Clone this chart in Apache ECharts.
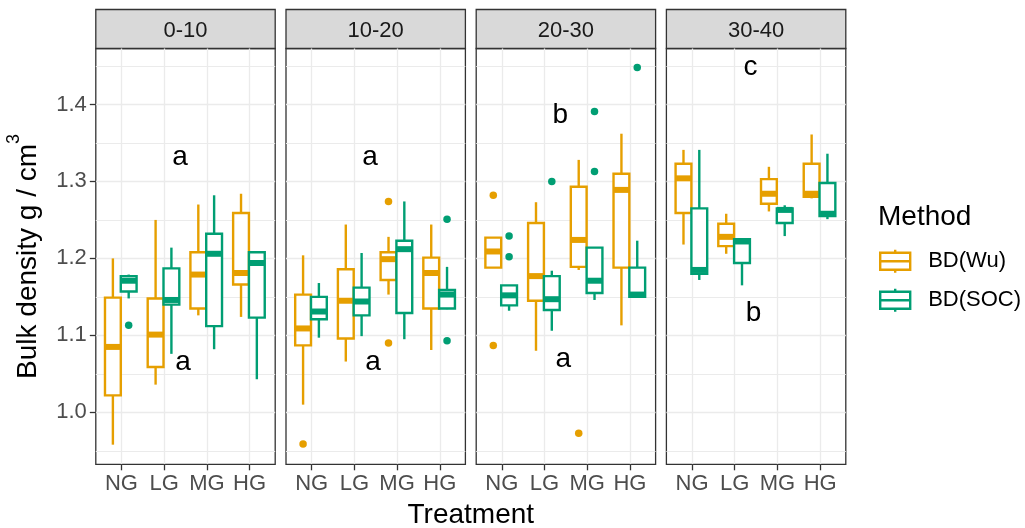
<!DOCTYPE html>
<html>
<head>
<meta charset="utf-8">
<script src="https://cdn.jsdelivr.net/npm/echarts@6.0.0/dist/echarts.min.js"></script>
<style>
  html, body { margin: 0; padding: 0; background: #ffffff; }
  #chart { width: 1025px; height: 528px; }
</style>
</head>
<body>
<div id="chart"></div>
<script>
// ---- data -------------------------------------------------------------
const CATEGORIES = ['NG', 'LG', 'MG', 'HG'];
const DEPTHS = ['0-10', '10-20', '20-30', '30-40'];
const METHODS = ['BD(Wu)', 'BD(SOC)'];

// Box statistics per treatment (NG, LG, MG, HG):
// [lower whisker, Q1, median, Q3, upper whisker]
const WU_0_10 = [
  [0.958, 1.022, 1.085, 1.149, 1.200],
  [1.036, 1.059, 1.101, 1.148, 1.250],
  [1.126, 1.135, 1.179, 1.208, 1.270],
  [1.124, 1.166, 1.181, 1.259, 1.284]
];
const WU_10_20 = [
  [1.010, 1.087, 1.109, 1.153, 1.204],
  [1.066, 1.096, 1.145, 1.186, 1.244],
  [1.153, 1.172, 1.199, 1.208, 1.228],
  [1.081, 1.135, 1.181, 1.201, 1.244]
];
const WU_20_30 = [
  [1.188, 1.188, 1.209, 1.227, 1.227],
  [1.080, 1.145, 1.177, 1.246, 1.273],
  [1.185, 1.189, 1.224, 1.293, 1.328],
  [1.113, 1.188, 1.289, 1.310, 1.362]
];
const WU_30_40 = [
  [1.218, 1.259, 1.304, 1.323, 1.341],
  [1.206, 1.216, 1.228, 1.245, 1.258],
  [1.261, 1.271, 1.284, 1.303, 1.319],
  [1.278, 1.280, 1.284, 1.323, 1.361]
];

const SOC_0_10 = [
  [1.148, 1.157, 1.171, 1.177, 1.179],
  [1.076, 1.140, 1.146, 1.187, 1.214],
  [1.082, 1.112, 1.206, 1.232, 1.282],
  [1.043, 1.123, 1.194, 1.208, 1.209]
];
const SOC_10_20 = [
  [1.097, 1.121, 1.131, 1.150, 1.168],
  [1.099, 1.126, 1.144, 1.162, 1.207],
  [1.095, 1.129, 1.212, 1.223, 1.274],
  [1.134, 1.135, 1.153, 1.159, 1.189]
];
const SOC_20_30 = [
  [1.132, 1.139, 1.152, 1.165, 1.165],
  [1.106, 1.133, 1.147, 1.177, 1.184],
  [1.146, 1.155, 1.171, 1.214, 1.214],
  [1.150, 1.150, 1.153, 1.188, 1.223]
];
const SOC_30_40 = [
  [1.172, 1.180, 1.185, 1.265, 1.341],
  [1.165, 1.194, 1.222, 1.225, 1.225],
  [1.229, 1.246, 1.263, 1.265, 1.269],
  [1.251, 1.255, 1.258, 1.298, 1.336]
];

// Outlying points: [depth index, treatment index, value]
const WU_OUTLIERS = [
  [1, 0, 0.959], [1, 2, 1.274], [1, 2, 1.090],
  [2, 0, 1.282], [2, 0, 1.087], [2, 2, 0.973]
];
const SOC_OUTLIERS = [
  [0, 0, 1.113],
  [1, 3, 1.251], [1, 3, 1.093],
  [2, 0, 1.229], [2, 0, 1.202], [2, 1, 1.300],
  [2, 2, 1.391], [2, 2, 1.313], [2, 3, 1.448]
];

// Significance letters per depth
const LETTERS_UPPER = ['a', 'a', 'b', 'c'];
const LETTERS_UPPER_Y = [1.331, 1.331, 1.386, 1.448];
const LETTERS_LOWER = ['a', 'a', 'a', 'b'];
const LETTERS_LOWER_Y = [1.065, 1.065, 1.069, 1.129];
const LETTER_X_UPPER = 1.37;
const LETTER_X_LOWER = 1.44;

const Y_TICKS = [1.0, 1.1, 1.2, 1.3, 1.4];
const Y_MINOR = [0.95, 1.05, 1.15, 1.25, 1.35, 1.45];
const X_TICKS = [0, 1, 2, 3];

// ---- look & layout --------------------------------------------------
const WU_BOXES = [WU_0_10, WU_10_20, WU_20_30, WU_30_40];
const SOC_BOXES = [SOC_0_10, SOC_10_20, SOC_20_30, SOC_30_40];
const COLORS = ['#E69F00', '#009E73'];
const FONT = "'Liberation Sans', Arial, Helvetica, sans-serif";
const Y_RANGE = [0.9325, 1.4727];
const X_RANGE = [-0.6, 3.6];
const DODGE = [-0.2, 0.17];
const BOX_W = 0.37;
const BOX_LINE = 2.4;
const MEDIAN_LINE = 6;

const PANEL_LEFT = 95.8, PANEL_STEP = 190.2, PANEL_W = 179.4;
const PANEL_TOP = 48.5, PANEL_H = 415.8;
const STRIP_TOP = 9.5, STRIP_H = 39;
const GRID_COLOR = '#EBEBEB';
const FRAME_COLOR = '#333333';

function boxRenderer(color, shift) {
  return function (params, api) {
    const x = api.value(0) + shift;
    const half = BOX_W / 2;
    const lo = api.coord([x, api.value(1)]);
    const q1 = api.coord([x - half, api.value(2)]);
    const med = api.coord([x, api.value(3)]);
    const q3 = api.coord([x + half, api.value(4)]);
    const hi = api.coord([x, api.value(5)]);
    const cx = med[0];
    const lineStyle = { stroke: color, lineWidth: BOX_LINE, fill: null };
    return {
      type: 'group',
      children: [
        { type: 'line', shape: { x1: cx, y1: hi[1], x2: cx, y2: q3[1] }, style: lineStyle },
        { type: 'line', shape: { x1: cx, y1: q1[1], x2: cx, y2: lo[1] }, style: lineStyle },
        {
          type: 'rect',
          shape: { x: q1[0], y: q3[1], width: q3[0] - q1[0], height: q1[1] - q3[1] },
          style: { fill: '#ffffff', stroke: color, lineWidth: BOX_LINE }
        },
        {
          type: 'line',
          shape: { x1: q1[0], y1: med[1], x2: q3[0], y2: med[1] },
          style: { stroke: color, lineWidth: MEDIAN_LINE, lineCap: 'butt' }
        }
      ]
    };
  };
}

const grids = [], xAxes = [], yAxes = [], series = [], graphics = [];

DEPTHS.forEach(function (depth, i) {
  const left = PANEL_LEFT + i * PANEL_STEP;
  grids.push({
    left: left, top: PANEL_TOP, width: PANEL_W, height: PANEL_H,
    show: true, borderColor: FRAME_COLOR, borderWidth: 1.3,
    backgroundColor: 'transparent', containLabel: false, outerBoundsMode: 'none'
  });

  xAxes.push({
    type: 'value', gridIndex: i, min: X_RANGE[0], max: X_RANGE[1], position: 'bottom',
    axisLine: { show: false, onZero: false },
    axisTick: { show: true, customValues: X_TICKS, length: 6, lineStyle: { color: FRAME_COLOR, width: 1.3 } },
    axisLabel: {
      customValues: X_TICKS, margin: 9,
      formatter: function (v) { return CATEGORIES[Math.round(v)]; },
      color: '#4D4D4D', fontSize: 22, fontFamily: FONT
    },
    splitLine: { show: true, lineStyle: { color: GRID_COLOR, width: 1.3 } }
  });

  const yAxis = {
    type: 'value', gridIndex: i, min: Y_RANGE[0], max: Y_RANGE[1], position: 'left',
    axisLine: { show: false, onZero: false },
    axisTick: { show: i === 0, customValues: Y_TICKS, length: 6, lineStyle: { color: FRAME_COLOR, width: 1.3 } },
    axisLabel: {
      show: i === 0, customValues: Y_TICKS, margin: 9,
      formatter: function (v) { return v.toFixed(1); },
      color: '#4D4D4D', fontSize: 22, fontFamily: FONT
    },
    splitLine: { show: true, lineStyle: { color: GRID_COLOR, width: 1.3 } }
  };
  if (i === 0) {
    yAxis.name = '{t|Bulk density g / cm}{s|3}';
    yAxis.nameLocation = 'middle';
    yAxis.nameRotate = 90;
    yAxis.nameGap = 45;
    yAxis.nameTextStyle = {
      color: '#000000', fontFamily: FONT, fontSize: 28,
      rich: {
        t: { fontSize: 28, lineHeight: 46, fontFamily: FONT, color: '#000000' },
        s: { fontSize: 18, lineHeight: 18, verticalAlign: 'top', fontFamily: FONT, color: '#000000' }
      }
    };
  }
  yAxes.push(yAxis);

  // minor horizontal grid lines
  series.push({
    type: 'line', xAxisIndex: i, yAxisIndex: i, data: [], z: 1, silent: true,
    markLine: {
      z: 1, silent: true, symbol: 'none', animation: false,
      label: { show: false },
      lineStyle: { color: GRID_COLOR, width: 1, type: 'solid' },
      emphasis: { disabled: true },
      data: Y_MINOR.map(function (v) { return { yAxis: v }; })
    }
  });

  [WU_BOXES[i], SOC_BOXES[i]].forEach(function (boxes, m) {
    series.push({
      type: 'custom', name: METHODS[m], xAxisIndex: i, yAxisIndex: i, z: 3,
      itemStyle: { color: COLORS[m] },
      renderItem: boxRenderer(COLORS[m], DODGE[m]),
      encode: { x: 0, y: [1, 2, 3, 4, 5] },
      data: boxes.map(function (b, c) { return [c].concat(b); })
    });
  });

  [WU_OUTLIERS, SOC_OUTLIERS].forEach(function (list, m) {
    series.push({
      type: 'scatter', name: METHODS[m], xAxisIndex: i, yAxisIndex: i, z: 4,
      symbol: 'circle', symbolSize: 7.5, silent: true,
      itemStyle: { color: COLORS[m], opacity: 1 },
      data: list.filter(function (o) { return o[0] === i; })
                .map(function (o) { return [o[1] + DODGE[m], o[2]]; })
    });
  });

  const letters = [LETTERS_UPPER[i], LETTERS_LOWER[i]];
  series.push({
    type: 'custom', xAxisIndex: i, yAxisIndex: i, z: 5, silent: true,
    data: [[LETTER_X_UPPER, LETTERS_UPPER_Y[i]], [LETTER_X_LOWER, LETTERS_LOWER_Y[i]]],
    renderItem: function (params, api) {
      const p = api.coord([api.value(0), api.value(1)]);
      return {
        type: 'text', x: p[0], y: p[1],
        style: {
          text: letters[params.dataIndex], fill: '#000000',
          fontSize: 28, fontFamily: FONT, align: 'center', verticalAlign: 'middle'
        }
      };
    }
  });

  // facet strip
  graphics.push({
    type: 'rect', silent: true,
    shape: { x: left, y: STRIP_TOP, width: PANEL_W, height: STRIP_H },
    style: { fill: '#D9D9D9', stroke: FRAME_COLOR, lineWidth: 1.3 }
  });
  graphics.push({
    type: 'text', silent: true,
    x: left + PANEL_W / 2, y: STRIP_TOP + STRIP_H / 2 + 1.5,
    style: { text: depth, fill: '#1A1A1A', fontSize: 22, fontFamily: FONT, align: 'center', verticalAlign: 'middle' }
  });
});

// x axis title and legend title
graphics.push({
  type: 'text', silent: true,
  x: PANEL_LEFT + (3 * PANEL_STEP + PANEL_W) / 2, y: 515,
  style: { text: 'Treatment', fill: '#000000', fontSize: 28, fontFamily: FONT, align: 'center', verticalAlign: 'middle' }
});
graphics.push({
  type: 'text', silent: true, x: 878, y: 217.5,
  style: { text: 'Method', fill: '#000000', fontSize: 28, fontFamily: FONT, align: 'left', verticalAlign: 'middle' }
});

const LEGEND_ICON = 'path://M0,3 L30,3 L30,20 L0,20 Z M0,11.5 L30,11.5 M15,0 L15,3 M15,20 L15,23';

const chart = echarts.init(document.getElementById('chart'), null, { renderer: 'canvas' });
chart.setOption({
  animation: false,
  backgroundColor: '#ffffff',
  grid: grids,
  xAxis: xAxes,
  yAxis: yAxes,
  legend: {
    orient: 'vertical', left: 879, top: 248.5, padding: 0,
    itemWidth: 30, itemHeight: 23, itemGap: 13.7,
    icon: LEGEND_ICON, selectedMode: false,
    textStyle: { fontSize: 22, color: '#000000', fontFamily: FONT, padding: [0, 0, 0, 13] },
    data: METHODS.map(function (m, k) {
      return { name: m, itemStyle: { color: 'transparent', borderColor: COLORS[k], borderWidth: 2.4 } };
    })
  },
  graphic: graphics,
  series: series
});
</script>
</body>
</html>
